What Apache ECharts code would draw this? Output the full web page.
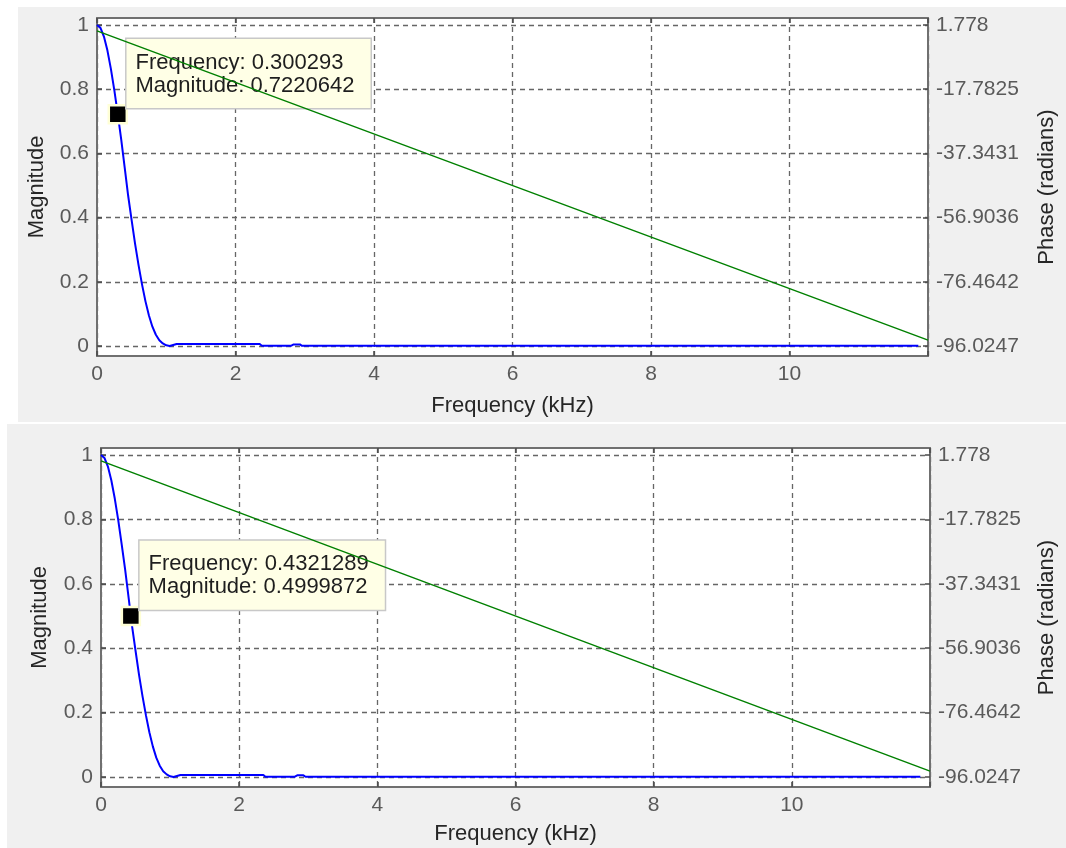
<!DOCTYPE html>
<html><head><meta charset="utf-8">
<script src="https://cdn.jsdelivr.net/npm/echarts@6/dist/echarts.min.js"></script>
<style>html,body{margin:0;padding:0;background:#fff}#c{width:1066px;height:848px}</style>
</head><body><div id="c"></div>
<script>
// ---- data ----
const freqKHz = [0, 0.05, 0.1, 0.15, 0.2, 0.25, 0.3, 0.35, 0.4, 0.45, 0.5, 0.55, 0.6, 0.65, 0.7, 0.75, 0.8, 0.85, 0.9, 0.95, 1.0, 1.05, 1.1, 1.15, 1.6, 2.0, 2.35, 2.38, 2.8, 2.84, 2.93, 2.96, 4, 8, 11.86];
const magnitude = [1.000, 0.991, 0.964, 0.921, 0.864, 0.797, 0.722, 0.643, 0.556, 0.468, 0.392, 0.318, 0.252, 0.192, 0.139, 0.095, 0.060, 0.035, 0.018, 0.008, 0.002, 0.000, 0.003, 0.006, 0.006, 0.006, 0.006, 0.0005, 0.0005, 0.005, 0.005, 0.0005, 0.0005, 0.0005, 0.0005];
const phaseFreqKHz = [0, 12];
const phaseRad = [0, -94.2478];
const freqTicks = [0, 2, 4, 6, 8, 10];
const magTicks = [0, 0.2, 0.4, 0.6, 0.8, 1];
const phaseTicks = [1.778, -17.7825, -37.3431, -56.9036, -76.4642, -96.0247];
const magRange = [-0.0312, 1.0218];
const phaseRange = [-99.0761, 3.9101];
const tipFreq = [0.300293, 0.4321289];
const tipMag = [0.7220642, 0.4999872];

// ---- layout ----
const panels = [
  {left: 97, top: 18, width: 836, height: 338, xNameGap: 39, yNameGap: 49, rNameGap: 108},
  {left: 101, top: 448, width: 836, height: 339, xNameGap: 36, yNameGap: 50, rNameGap: 106}
];
const FONT = "'Liberation Sans', Arial, sans-serif";
const axisLineStyle = {color: '#707070', width: 2};
const tickStyle = {color: '#4a4a4a', width: 1.5};
const gridLine = {color: '#666666', width: 1.3, type: [5, 4]};
const labelColor = '#5a5a5a';
const nameColor = '#262626';

const grids = [], xAxes = [], yAxes = [], series = [];
panels.forEach((p, i) => {
  grids.push({left: p.left, top: p.top, width: p.width, height: p.height,
    show: true, backgroundColor: '#ffffff', borderWidth: 0});
  xAxes.push({
    type: 'value', gridIndex: i, position: 'bottom', min: 0, max: 12, interval: 2,
    name: 'Frequency (kHz)', nameLocation: 'middle', nameGap: p.xNameGap,
    nameTextStyle: {color: nameColor, fontSize: 22, fontFamily: FONT},
    axisLine: {show: true, onZero: false, lineStyle: axisLineStyle},
    axisTick: {show: true, inside: true, length: 5, lineStyle: tickStyle},
    axisLabel: {color: labelColor, fontSize: 21, fontFamily: FONT, margin: 8,
      formatter: v => (freqTicks.indexOf(v) >= 0 ? String(v) : '')},
    splitLine: {show: true, lineStyle: gridLine}
  });
  xAxes.push({
    type: 'value', gridIndex: i, position: 'top', min: 0, max: 12, interval: 2,
    axisLine: {show: true, onZero: false, lineStyle: axisLineStyle},
    axisTick: {show: true, inside: true, length: 5, lineStyle: tickStyle},
    axisLabel: {show: false}, splitLine: {show: false}
  });
  yAxes.push({
    type: 'value', gridIndex: i, position: 'left', min: magRange[0], max: magRange[1],
    name: 'Magnitude', nameLocation: 'middle', nameGap: p.yNameGap, nameRotate: 90,
    nameTextStyle: {color: nameColor, fontSize: 22, fontFamily: FONT},
    axisLine: {show: true, onZero: false, lineStyle: axisLineStyle},
    axisTick: {show: true, inside: true, length: 5, lineStyle: tickStyle, customValues: magTicks},
    axisLabel: {color: labelColor, fontSize: 21, fontFamily: FONT, margin: 8, customValues: magTicks,
      formatter: v => String(v)},
    splitLine: {show: true, lineStyle: gridLine}
  });
  yAxes.push({
    type: 'value', gridIndex: i, position: 'right', min: phaseRange[0], max: phaseRange[1],
    name: 'Phase (radians)', nameLocation: 'middle', nameGap: p.rNameGap, nameRotate: 90,
    nameTextStyle: {color: nameColor, fontSize: 22, fontFamily: FONT},
    axisLine: {show: true, onZero: false, lineStyle: axisLineStyle},
    axisTick: {show: true, inside: true, length: 5, lineStyle: tickStyle, customValues: phaseTicks},
    axisLabel: {color: labelColor, fontSize: 21, fontFamily: FONT, margin: 8, customValues: phaseTicks,
      formatter: v => String(v)},
    splitLine: {show: false}
  });
  series.push({
    type: 'line', xAxisIndex: 2 * i, yAxisIndex: 2 * i, z: 1,
    data: freqKHz.map((f, k) => [f, magnitude[k]]),
    showSymbol: false, symbol: 'none', lineStyle: {color: '#0000ff', width: 2},
    emphasis: {disabled: true}, silent: true
  });
  series.push({
    type: 'scatter', xAxisIndex: 2 * i, yAxisIndex: 2 * i, z: 2,
    data: [[tipFreq[i], tipMag[i]]],
    symbol: 'rect', symbolSize: 18,
    itemStyle: {color: '#000000', opacity: 1, borderColor: '#ffffd6', borderWidth: 2.5},
    label: {
      show: true, position: [19, -65], align: 'left', verticalAlign: 'top',
      formatter: () => 'Frequency: ' + tipFreq[i] + '\nMagnitude: ' + tipMag[i],
      backgroundColor: '#ffffe6', borderColor: '#c8c8c8', borderWidth: 1.5,
      padding: [12, 16, 11, 9], fontSize: 22, lineHeight: 23, fontFamily: FONT, color: '#1e1e1e'
    },
    emphasis: {disabled: true}, silent: true
  });
  series.push({
    type: 'line', xAxisIndex: 2 * i, yAxisIndex: 2 * i + 1, z: 3,
    data: phaseFreqKHz.map((f, k) => [f, phaseRad[k]]),
    showSymbol: false, symbol: 'none', lineStyle: {color: '#008000', width: 1.5},
    emphasis: {disabled: true}, silent: true
  });
});

const chart = echarts.init(document.getElementById('c'), null, {renderer: 'canvas'});
chart.setOption({
  animation: false,
  backgroundColor: '#ffffff',
  graphic: [
    {type: 'rect', z: -100, silent: true, shape: {x: 18, y: 7, width: 1048, height: 415}, style: {fill: '#f0f0f0'}},
    {type: 'rect', z: -100, silent: true, shape: {x: 7, y: 424, width: 1059, height: 424}, style: {fill: '#f0f0f0'}}
  ],
  grid: grids, xAxis: xAxes, yAxis: yAxes, series: series
});
</script></body></html>
